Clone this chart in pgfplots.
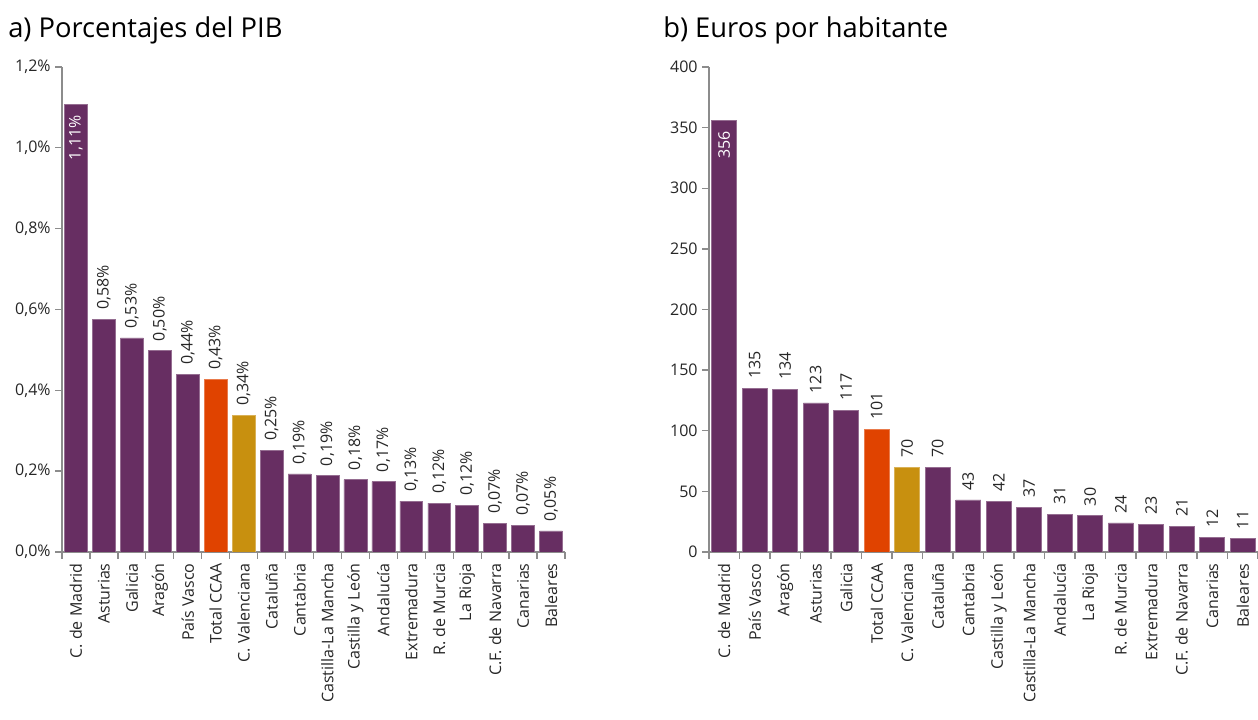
\documentclass[border=0pt]{standalone}
\usepackage{pgfplots}
\pgfplotsset{compat=1.18}
\usepackage{fontspec}
\setmainfont{Open Sans}
\definecolor{morado}{HTML}{672E62}
\definecolor{naranja}{HTML}{E04300}
\definecolor{oro}{HTML}{C8900F}
\definecolor{eje}{HTML}{8C8C8C}
\definecolor{texto}{HTML}{262626}

\pgfplotsset{
  panel/.style={
    scale only axis,
    height=363.75pt,
    axis x line=bottom, axis y line=left,
    axis line style={eje, -, line width=1.2pt},
    xmin=-0.5, xmax=17.5, ymin=0,
    xtick={0,...,17},
    major x tick style={draw=none},
    minor xtick={-0.5,0.5,...,17.5},
    major tick length=5pt, minor tick length=5pt,
    tick align=outside,
    tick style={eje, line width=1pt},
    ticklabel style={font=\fontsize{12}{14}\selectfont, text=texto},
    x tick label style={rotate=90, anchor=east},
    /pgf/number format/assume math mode=true,
    ybar, bar width=0.82, bar shift=0pt,
    nodes near coords, point meta=explicit symbolic,
    every node near coord/.append style={rotate=90, anchor=west, inner sep=7pt,
      font=\fontsize{12}{14}\selectfont, text=texto},
  },
  barra/.style={fill=#1, draw=#1!70!white, line width=0.4pt},
  dentro/.style={every node near coord/.append style={anchor=east, text=white, inner sep=8pt}},
}

\begin{document}
\begin{tikzpicture}
\useasboundingbox (0,0) rectangle (943.5pt,540pt);
\node[anchor=base west, font=\fontsize{20.5}{24}\selectfont, text=black, inner sep=0pt] at (6pt,511.5pt) {a) Porcentajes del PIB};
\node[anchor=base west, font=\fontsize{20.5}{24}\selectfont, text=black, inner sep=0pt] at (497.25pt,511.5pt) {b) Euros por habitante};

\begin{axis}[panel, at={(46.5pt,126pt)}, anchor=south west, width=377.25pt,
  ymax=1.2, ytick={0,0.2,...,1.2},
  yticklabels={{0,0\%},{0,2\%},{0,4\%},{0,6\%},{0,8\%},{1,0\%},{1,2\%}},
  xticklabels={C. de Madrid, Asturias, Galicia, Aragón, País Vasco, Total CCAA,
    C. Valenciana, Cataluña, Cantabria, Castilla-La Mancha, Castilla y León,
    Andalucía, Extremadura, R. de Murcia, La Rioja, C.F. de Navarra, Canarias, Baleares}]
\addplot[barra=morado, dentro] coordinates {(0,1.107) [1,11\%]};
\addplot[barra=morado] coordinates {
  (1,0.575) [0,58\%] (2,0.530) [0,53\%] (3,0.498) [0,50\%] (4,0.440) [0,44\%]
  (7,0.252) [0,25\%] (8,0.193) [0,19\%] (9,0.189) [0,19\%] (10,0.179) [0,18\%]
  (11,0.174) [0,17\%] (12,0.126) [0,13\%] (13,0.121) [0,12\%] (14,0.115) [0,12\%]
  (15,0.071) [0,07\%] (16,0.066) [0,07\%] (17,0.052) [0,05\%]};
\addplot[barra=naranja] coordinates {(5,0.428) [0,43\%]};
\addplot[barra=oro] coordinates {(6,0.338) [0,34\%]};
\end{axis}

\begin{axis}[panel, at={(531.75pt,126pt)}, anchor=south west, width=411.75pt,
  ymax=400, ytick={0,50,...,400},
  xticklabels={C. de Madrid, País Vasco, Aragón, Asturias, Galicia, Total CCAA,
    C. Valenciana, Cataluña, Cantabria, Castilla y León, Castilla-La Mancha,
    Andalucía, La Rioja, R. de Murcia, Extremadura, C.F. de Navarra, Canarias, Baleares}]
\addplot[barra=morado, dentro] coordinates {(0,356) [356]};
\addplot[barra=morado] coordinates {
  (1,135) [135] (2,134) [134] (3,123) [123] (4,117) [117]
  (7,70) [70] (8,43) [43] (9,42) [42] (10,37) [37]
  (11,31) [31] (12,30) [30] (13,24) [24] (14,23) [23]
  (15,21) [21] (16,12) [12] (17,11) [11]};
\addplot[barra=naranja] coordinates {(5,101.5) [101]};
\addplot[barra=oro] coordinates {(6,70) [70]};
\end{axis}
\end{tikzpicture}
\end{document}
